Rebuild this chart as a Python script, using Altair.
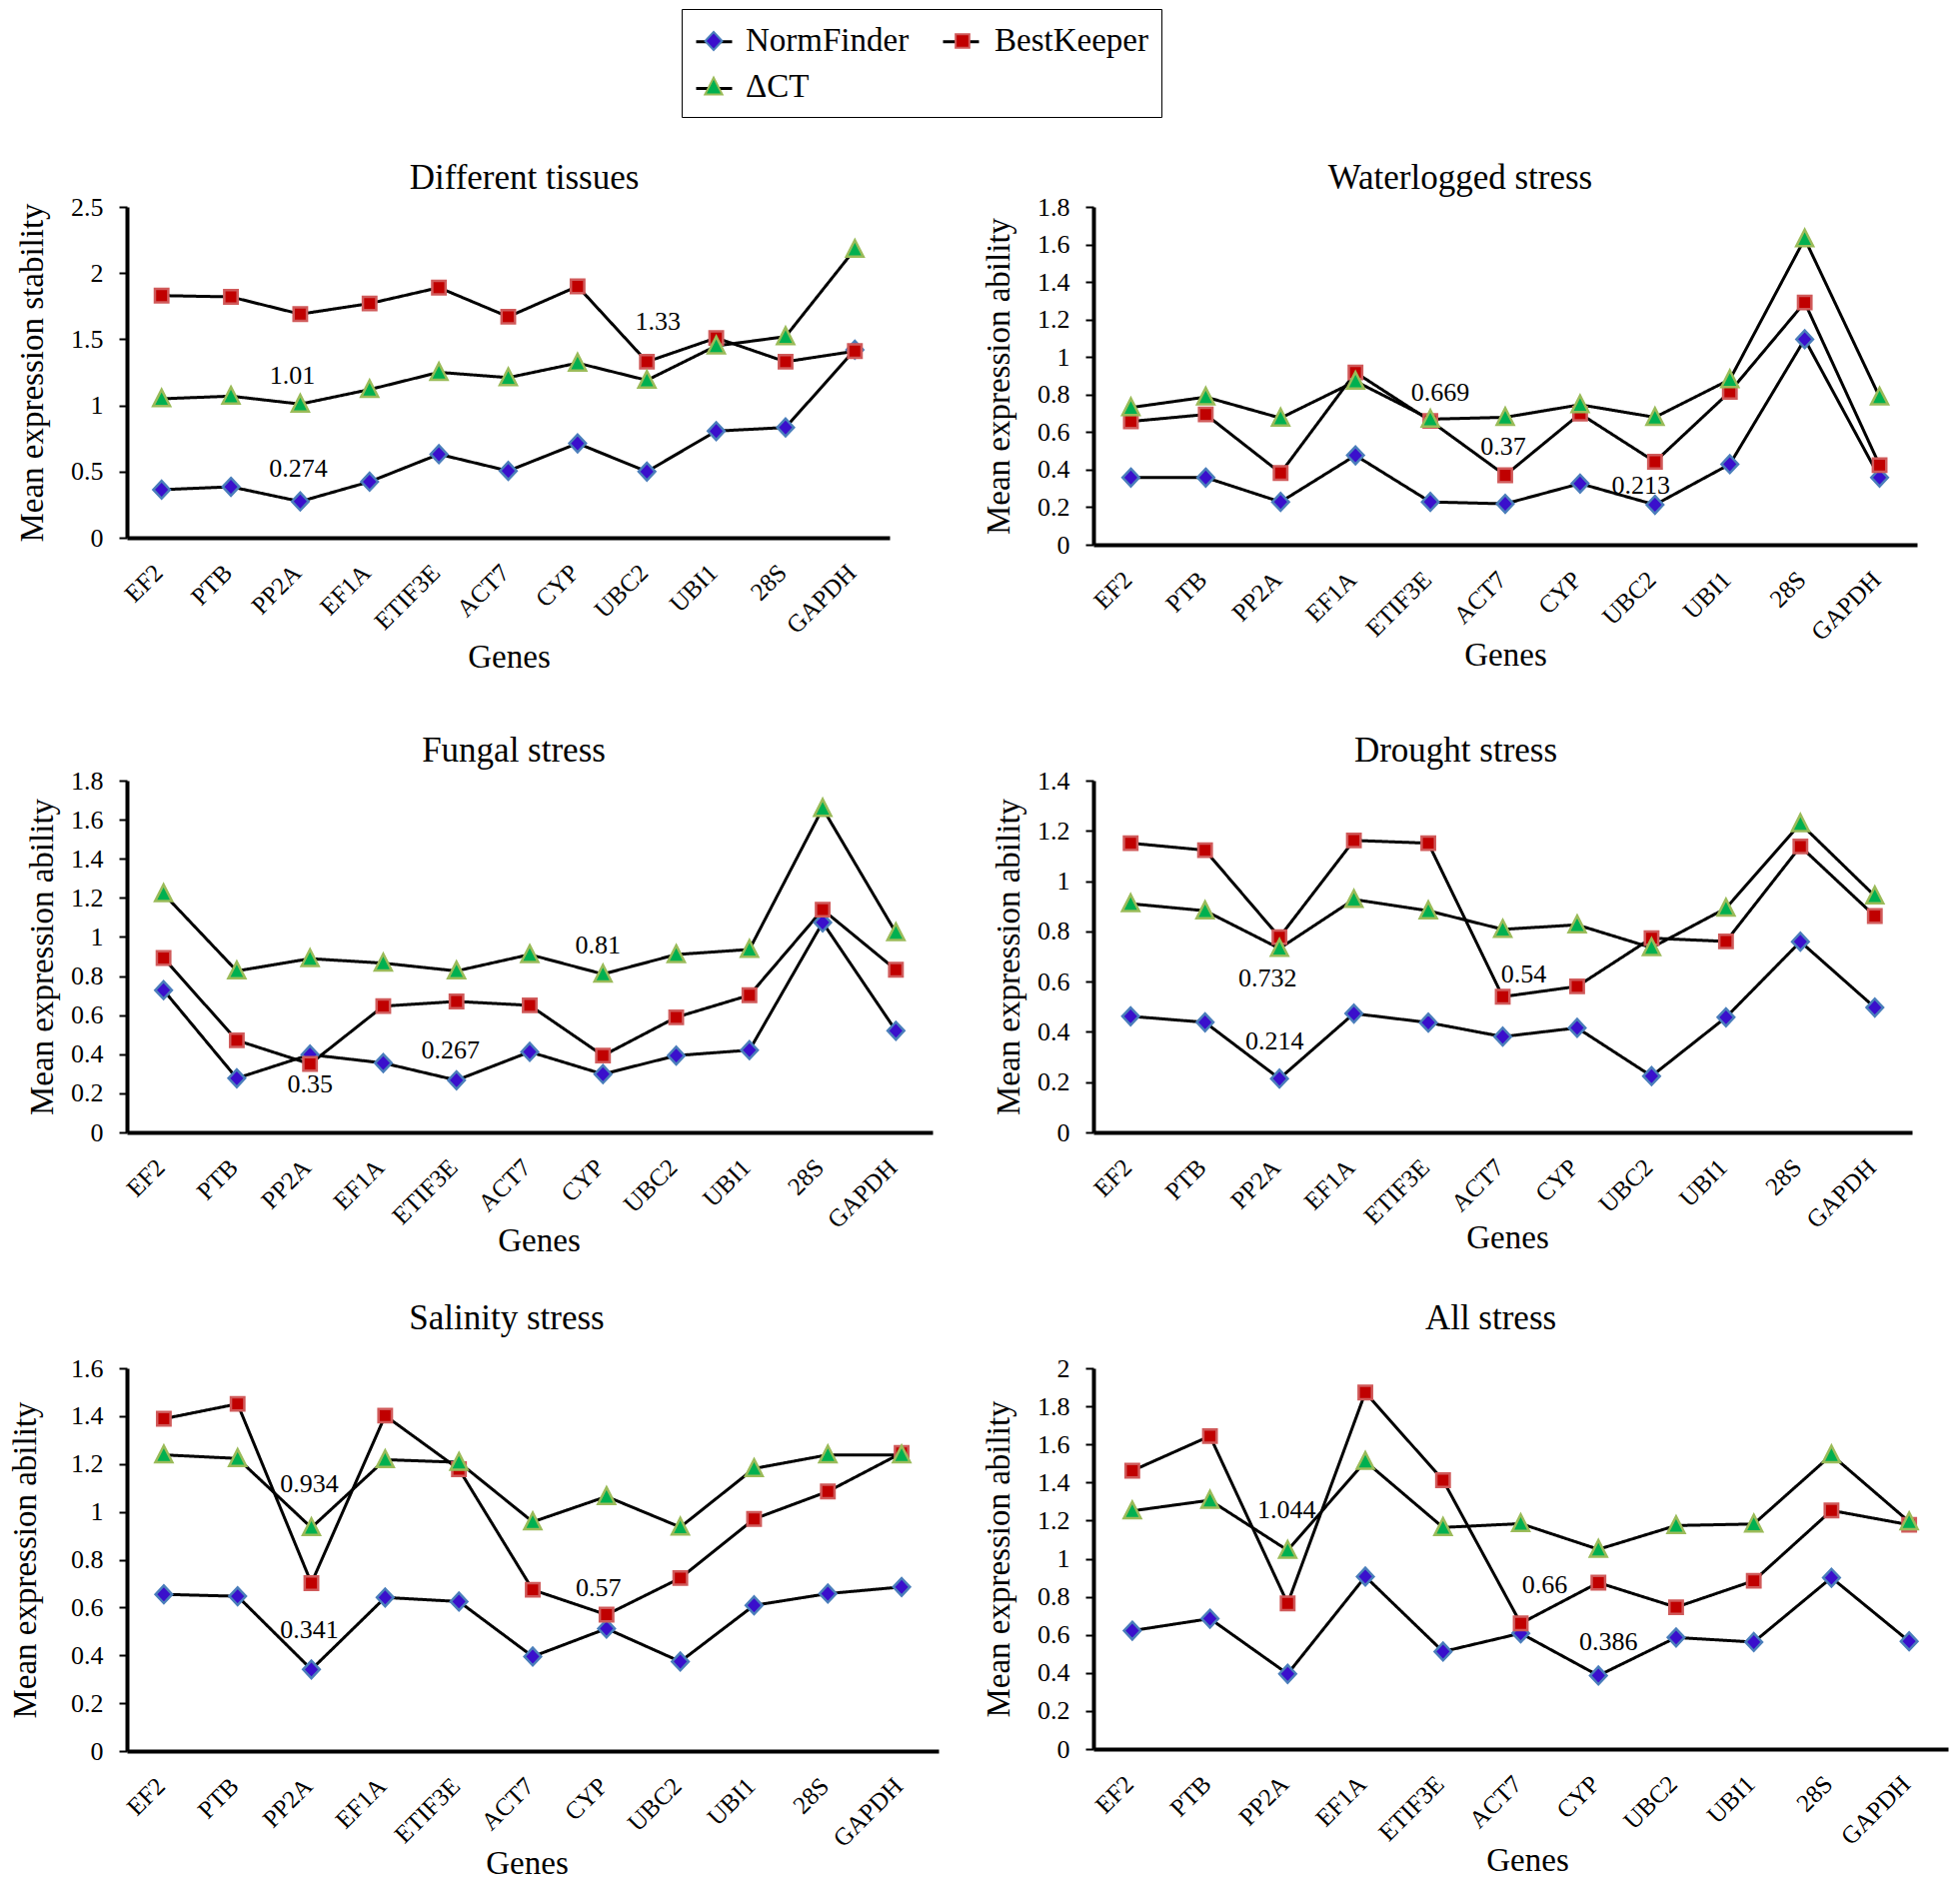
import altair as alt
import pandas as pd

SERIF = "Liberation Serif"

GENES = ["EF2", "PTB", "PP2A", "EF1A", "ETIF3E", "ACT7", "CYP", "UBC2", "UBI1", "28S", "GAPDH"]
METHODS = ["NormFinder", "BestKeeper", "ΔCT"]
LINE_KEYS = [m + " " for m in METHODS]
FILLS = ["#3A0FCC", "#C00000", "#00B050"]
STROKES = ["#4A7EBB", "#D05A5A", "#9BBB59"]
SHAPES = [
    "M0,-0.5L0.47,0L0,0.5L-0.47,0Z",
    "M-0.38,-0.38L0.38,-0.38L0.38,0.38L-0.38,0.38Z",
    "M0,-0.52L0.48,0.42L-0.48,0.42Z",
]

# ---- data ----
tissues_nf = [0.363, 0.385, 0.274, 0.423, 0.631, 0.505, 0.713, 0.500, 0.806, 0.833, 1.42]
tissues_bk = [1.83, 1.82, 1.69, 1.77, 1.89, 1.67, 1.90, 1.33, 1.51, 1.33, 1.41]
tissues_dct = [1.05, 1.07, 1.01, 1.12, 1.25, 1.21, 1.32, 1.19, 1.45, 1.52, 2.18]

water_nf = [0.358, 0.358, 0.228, 0.476, 0.228, 0.218, 0.326, 0.213, 0.429, 1.095, 0.358]
water_bk = [0.657, 0.694, 0.382, 0.918, 0.66, 0.37, 0.698, 0.442, 0.815, 1.291, 0.424]
water_dct = [0.731, 0.787, 0.675, 0.871, 0.669, 0.679, 0.746, 0.679, 0.88, 1.63, 0.787]

fungal_nf = [0.728, 0.277, 0.398, 0.355, 0.267, 0.412, 0.298, 0.393, 0.421, 1.074, 0.52]
fungal_bk = [0.892, 0.471, 0.35, 0.646, 0.67, 0.65, 0.393, 0.589, 0.702, 1.14, 0.832]
fungal_dct = [1.221, 0.826, 0.889, 0.866, 0.826, 0.91, 0.81, 0.91, 0.936, 1.658, 1.022]

drought_nf = [0.462, 0.438, 0.214, 0.473, 0.437, 0.381, 0.416, 0.224, 0.458, 0.759, 0.497]
drought_bk = [1.151, 1.123, 0.777, 1.162, 1.151, 0.54, 0.581, 0.773, 0.76, 1.138, 0.861]
drought_dct = [0.91, 0.882, 0.732, 0.927, 0.882, 0.808, 0.826, 0.735, 0.892, 1.229, 0.941]

salinity_nf = [0.655, 0.647, 0.341, 0.642, 0.625, 0.395, 0.512, 0.374, 0.609, 0.658, 0.686]
salinity_bk = [1.389, 1.451, 0.702, 1.402, 1.178, 0.674, 0.57, 0.723, 0.97, 1.085, 1.246]
salinity_dct = [1.238, 1.223, 0.934, 1.218, 1.207, 0.958, 1.064, 0.936, 1.181, 1.238, 1.238]

all_nf = [0.622, 0.685, 0.395, 0.906, 0.512, 0.608, 0.386, 0.586, 0.562, 0.9, 0.566]
all_bk = [1.462, 1.644, 0.765, 1.873, 1.412, 0.66, 0.874, 0.745, 0.884, 1.253, 1.178]
all_dct = [1.251, 1.307, 1.044, 1.511, 1.164, 1.184, 1.049, 1.174, 1.182, 1.545, 1.194]

ticks_tissues = [0, 0.5, 1, 1.5, 2, 2.5]
ticks_water = [0, 0.2, 0.4, 0.6, 0.8, 1, 1.2, 1.4, 1.6, 1.8]
ticks_fungal = [0, 0.2, 0.4, 0.6, 0.8, 1, 1.2, 1.4, 1.6, 1.8]
ticks_drought = [0, 0.2, 0.4, 0.6, 0.8, 1, 1.2, 1.4]
ticks_salinity = [0, 0.2, 0.4, 0.6, 0.8, 1, 1.2, 1.4, 1.6]
ticks_all = [0, 0.2, 0.4, 0.6, 0.8, 1, 1.2, 1.4, 1.6, 1.8, 2]

# annotation labels (the label is the annotated value) and the gene they sit at
notes_tissues = ["1.01", "0.274", "1.33"]
notes_tissues_gene = ["PP2A", "PP2A", "UBC2"]
notes_water = ["0.669", "0.37", "0.213"]
notes_water_gene = ["ETIF3E", "ACT7", "UBC2"]
notes_fungal = ["0.81", "0.267", "0.35"]
notes_fungal_gene = ["CYP", "ETIF3E", "PP2A"]
notes_drought = ["0.732", "0.214", "0.54"]
notes_drought_gene = ["PP2A", "PP2A", "ACT7"]
notes_salinity = ["0.934", "0.341", "0.57"]
notes_salinity_gene = ["PP2A", "PP2A", "CYP"]
notes_all = ["1.044", "0.66", "0.386"]
notes_all_gene = ["PP2A", "ACT7", "CYP"]

# label pixel offsets (style)
off_tissues = [(-8, -28), (-2, -33), (11, -40)]
off_water = [(10, -26), (-2, -29), (-14, -19)]
off_fungal = [(-5, -29), (-6, -30), (0, 20)]
off_drought = [(-12, 30), (-5, -37), (21, -22)]
off_salinity = [(-2, -43), (-2, -39), (-8, -27)]
off_all = [(-1, -40), (24, -38), (10, -33)]

LEG_COMMON = dict(
    title=None, orient="none", legendX=555, legendY=-198, direction="horizontal",
    columns=2, symbolSize=1296, labelFont=SERIF, labelFontSize=33,
    rowPadding=10, padding=13, labelLimit=400,
)
# markers + labels + frame
PT_LEGEND = alt.Legend(symbolStrokeWidth=2, labelColor="black", labelOffset=13,
                       columnPadding=34, strokeColor="black", zindex=2, **LEG_COMMON)
# black line segments behind the markers (no label text of its own)
LN_LEGEND = alt.Legend(symbolType="stroke", symbolStrokeColor="black", symbolStrokeWidth=3,
                       labelExpr="''", labelOffset=0, columnPadding=198,
                       zindex=1, **LEG_COMMON)


def panel(title, ytitle, nf, bk, dct, ticks, w, h, t_dy, t_dx, ytx, gtx, gty,
          notes, note_genes, offsets):
    rows = []
    for m, k, vals in zip(METHODS, LINE_KEYS, (nf, bk, dct)):
        for g, v in zip(GENES, vals):
            rows.append({"gene": g, "value": v, "series": m, "method": k})
    df = pd.DataFrame(rows)

    X = alt.X("gene:N",
              scale=alt.Scale(type="point", domain=GENES, padding=0.5),
              axis=alt.Axis(title="Genes", labelAngle=-45, labelAlign="right",
                            labelBaseline="top", labelPadding=22, labelOffset=-12,
                            ticks=False, tickSize=0,
                            labelFontSize=25, labelOverlap=False,
                            titleFontSize=33, titleX=gtx, titleY=gty,
                            titleBaseline="alphabetic", titleAlign="center",
                            domainWidth=4))
    Y = alt.Y("value:Q",
              scale=alt.Scale(domain=[0, ticks[-1]], nice=False, zero=True),
              axis=alt.Axis(values=ticks, format="~g", title=ytitle, titleX=ytx,
                            titleBaseline="middle", titleFontSize=33,
                            labelFontSize=26, tickSize=8, tickWidth=2,
                            labelPadding=16, labelFlush=False, labelOverlap=False,
                            domainWidth=4))

    lines = alt.Chart(df).mark_line(color="black", strokeWidth=3).encode(
        x=X, y=Y,
        strokeDash=alt.StrokeDash("method:N",
                                  scale=alt.Scale(domain=LINE_KEYS, range=[[1, 0], [1, 0], [1, 0]]),
                                  legend=LN_LEGEND),
    )
    points = alt.Chart(df).mark_point(filled=True, opacity=1, size=1240, strokeWidth=2.5).encode(
        x=X, y=Y,
        shape=alt.Shape("series:N", scale=alt.Scale(domain=METHODS, range=SHAPES), legend=PT_LEGEND),
        fill=alt.Fill("series:N", scale=alt.Scale(domain=METHODS, range=FILLS), legend=PT_LEGEND),
        stroke=alt.Stroke("series:N", scale=alt.Scale(domain=METHODS, range=STROKES), legend=PT_LEGEND),
    )
    layers = [lines, points]
    for lab, g, (dx, dy) in zip(notes, note_genes, offsets):
        tdf = pd.DataFrame({"gene": [g], "value": [float(lab)], "label": [lab]})
        layers.append(
            alt.Chart(tdf).mark_text(font=SERIF, fontSize=26, color="black", dx=dx, dy=dy)
            .encode(x=X, y=Y, text="label:N")
        )
    return alt.layer(*layers).properties(
        width=w, height=h,
        title=alt.TitleParams(title, fontSize=35, offset=0, dy=t_dy, dx=t_dx, frame="group",
                              anchor="middle", baseline="alphabetic"),
    )


P1 = panel("Different tissues", "Mean expression stability", tissues_nf, tissues_bk, tissues_dct,
           ticks_tissues, 763, 331, 30, 16, -95, 382, 129,
           notes_tissues, notes_tissues_gene, off_tissues)
P2 = panel("Waterlogged stress", "Mean expression ability", water_nf, water_bk, water_dct,
           ticks_water, 824, 338, 30, -45, -95, 412, 120,
           notes_water, notes_water_gene, off_water)
P3 = panel("Fungal stress", "Mean expression ability", fungal_nf, fungal_bk, fungal_dct,
           ticks_fungal, 806, 352, 29, -16, -85, 412, 118,
           notes_fungal, notes_fungal_gene, off_fungal)
P4 = panel("Drought stress", "Mean expression ability", drought_nf, drought_bk, drought_dct,
           ticks_drought, 819, 352, 29, -47, -85, 414, 115,
           notes_drought, notes_drought_gene, off_drought)
P5 = panel("Salinity stress", "Mean expression ability", salinity_nf, salinity_bk, salinity_dct,
           ticks_salinity, 812, 383, 9, -26, -102, 400, 122,
           notes_salinity, notes_salinity_gene, off_salinity)
P6 = panel("All stress", "Mean expression ability", all_nf, all_bk, all_dct,
           ticks_all, 855, 381, 9, -30, -95, 434, 121,
           notes_all, notes_all_gene, off_all)

chart = (
    alt.concat(P1, P2, P3, P4, P5, P6, columns=2,
               spacing={"row": 236, "column": 155},
               align={"row": "none", "column": "each"},
               bounds="flush")
    .properties(padding=0, background="white")
    .configure_view(stroke="transparent")
    .configure_axis(domainColor="black", tickColor="black", labelColor="black",
                    titleColor="black", grid=False, labelFont=SERIF, titleFont=SERIF,
                    titleFontWeight="normal")
    .configure_title(font=SERIF, fontWeight="normal", color="black")
)

chart.save("out.html", embed_options={"renderer": "svg", "actions": False})
